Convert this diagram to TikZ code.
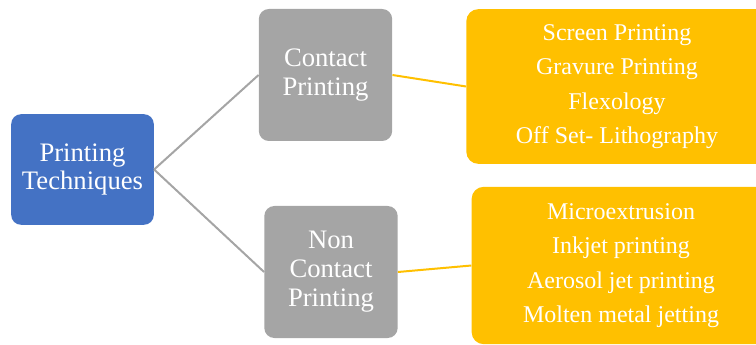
\documentclass[tikz,border=0pt]{standalone}
\usepackage{fontspec}
\setmainfont{Liberation Serif}
\definecolor{techblue}{HTML}{4472C4}
\definecolor{techgray}{HTML}{A5A5A5}
\definecolor{techgold}{HTML}{FFC000}

\begin{document}
\begin{tikzpicture}[x=0.75pt, y=-0.75pt]
\tikzset{grosnoeud/.style={fill=techblue, text=white, rounded corners=7.5pt, align=center, inner sep=0pt, font=\fontsize{20}{21}\selectfont}}
\tikzset{moynoeud/.style={fill=techgray, text=white, rounded corners=7.5pt, align=center, inner sep=0pt, minimum width=100pt, minimum height=99pt, font=\fontsize{20}{21.75}\selectfont}}
\tikzset{listnoeud/.style={fill=techgold, text=white, rounded corners=9pt, align=center, inner sep=0pt, font=\fontsize{18}{25.9}\selectfont}}
\clip (0, 0) rectangle (756, 345);
\useasboundingbox (0, 0) rectangle (756, 345);
\node[grosnoeud, minimum width=107pt, minimum height=83pt] (T) at (82.5, 169.5) {Printing\\Techniques};
\node[moynoeud] (C) at (325.5, 75) {Contact\\Printing};
\node[moynoeud, minimum height=99pt] (N) at (331, 272) {Non\\Contact\\Printing};
\node[listnoeud, minimum width=226pt, minimum height=116pt] (L1) at (617, 86.5) {Screen Printing\\Gravure Printing\\Flexology\\Off Set- Lithography};
\node[listnoeud, minimum width=224pt, minimum height=118pt] (L2) at (621, 265.5) {Microextrusion\\Inkjet printing\\Aerosol jet printing\\Molten metal jetting};
\draw[techgray, line width=1.5pt] (T.east) -- (C.west);
\draw[techgray, line width=1.5pt] (T.east) -- (N.west);
\draw[techgold, line width=1.5pt] (C.east) -- (L1.west);
\draw[techgold, line width=1.5pt] (N.east) -- (L2.west);
\end{tikzpicture}
\end{document}
